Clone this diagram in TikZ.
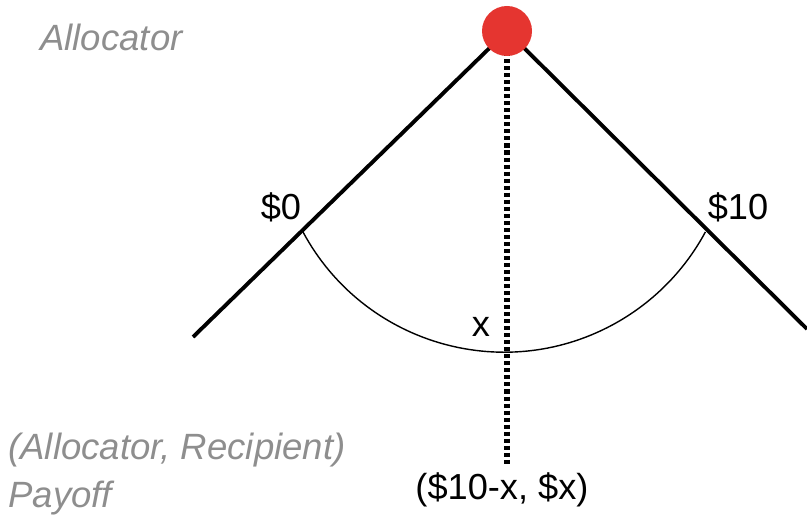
\documentclass[tikz,border=0pt]{standalone}
\usepackage{fontspec}
\setmainfont{Liberation Sans}
\usepackage{tikz}
\definecolor{nodered}{HTML}{E53530}
\definecolor{lblgray}{HTML}{8E8E8E}

\begin{document}
\begin{tikzpicture}[
      branch/.style={line width=2.2pt,black},
      infoset/.style={line width=3.2pt,black,dash pattern=on 2.3pt off 1.7pt},
      arcline/.style={line width=0.8pt,black},
      label/.style={font=\fontsize{20.6}{24}\selectfont,inner sep=0pt},
      player/.style={label,text=lblgray,font=\fontsize{20.8}{27}\selectfont\itshape},
      decision/.style={circle,fill=nodered,minimum size=1cm,inner sep=0pt}
    ]
    \useasboundingbox (0,0) rectangle (16.14,10.42);

    % points of the tree
    \coordinate (top)  at (10.14,9.80);
    \coordinate (lend) at (3.86,3.68);
    \coordinate (rend) at (16.14,3.84);
    \coordinate (dend) at (10.14,1.12);
    \coordinate (lpay) at (6.06,5.78);

    % branches and offer range
    \draw[branch]  (top) -- (lend);
    \draw[branch]  (top) -- (rend);
    \draw[infoset] (top) -- (dend);
    \draw[arcline] (lpay) arc[start angle=208.3,end angle=331.7,radius=4.57];

    % allocator node
    \node[decision] (root) at (top) {};

    % labels
    \node[player,anchor=west] (alloc) at (0.80,9.68) {Allocator};
    \node[label] (zero) at (5.62,6.28) {\$0};
    \node[label] (ten)  at (14.76,6.28) {\$10};
    \node[label] (xoff) at (9.62,3.88) {x};
    \node[label] (pay)  at (10.04,0.62) {(\$10-x, \$x)};
    \node[player,anchor=west,align=left] (legend) at (0.16,0.94)
          {(Allocator, Recipient)\\Payoff};

  \end{tikzpicture}
\end{document}
